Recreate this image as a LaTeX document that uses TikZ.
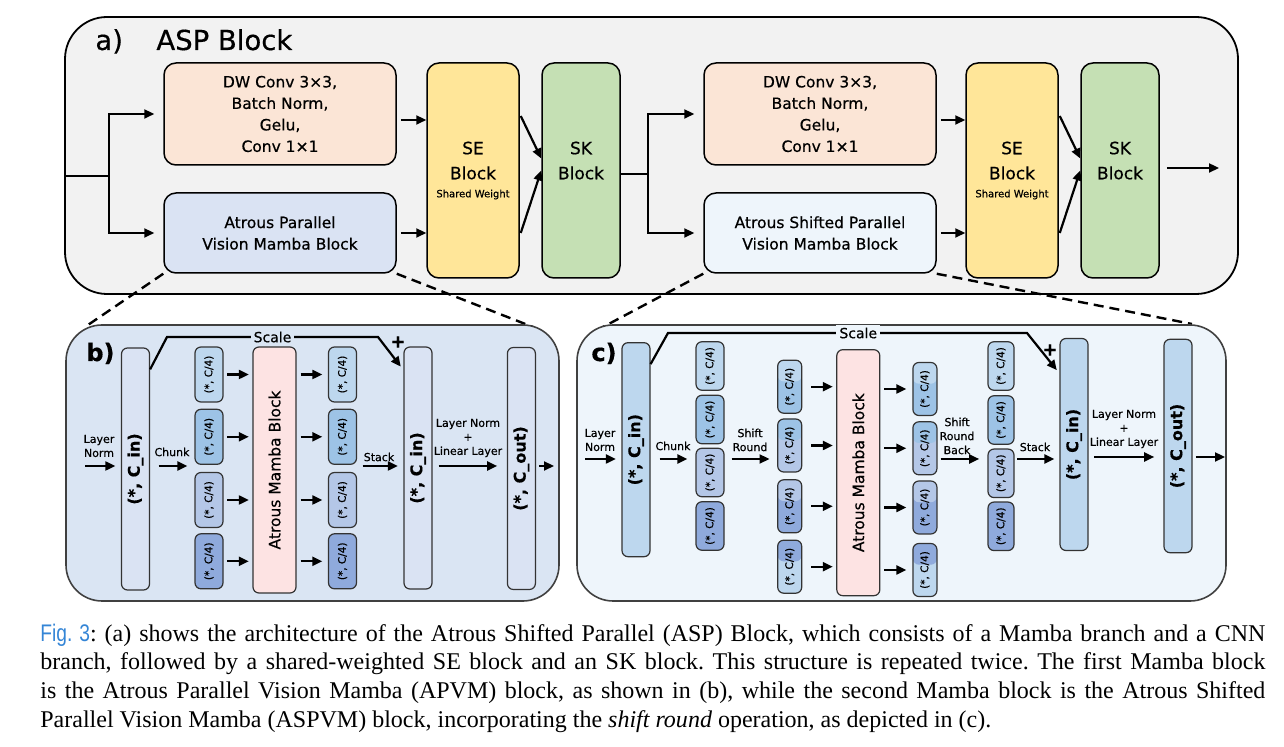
\documentclass[tikz,border=0pt]{standalone}
\usepackage{fontspec}
\usepackage{graphicx}
\setmainfont[FakeBold=0.5]{DejaVu Sans}
\newfontfamily\capserif{Liberation Serif}
\newfontfamily\capsans[FakeStretch=0.8]{Liberation Sans}
\usetikzlibrary{arrows.meta,calc}
\definecolor{panelA}{HTML}{F2F2F2}
\definecolor{panelB}{HTML}{DAE5F3}
\definecolor{panelC}{HTML}{EEF5FB}
\definecolor{peach}{HTML}{FBE5D6}
\definecolor{lav}{HTML}{DAE3F3}
\definecolor{seyel}{HTML}{FFE699}
\definecolor{skgrn}{HTML}{C5E0B4}
\definecolor{pinkb}{HTML}{FDE3E3}
\definecolor{qa}{HTML}{BDD7EE}
\definecolor{qb}{HTML}{9DC3E6}
\definecolor{qc}{HTML}{B4C7E7}
\definecolor{qd}{HTML}{8FAADC}
\definecolor{figblue}{HTML}{3485D6}
\newcommand{\fsz}[2]{\fontsize{#1}{#2}\selectfont}
\newcommand{\vtext}[1]{\rotatebox{90}{#1}}
\frenchspacing

\begin{document}
\begin{tikzpicture}[x=0.5pt,y=-0.5pt,
  box/.style={draw=black,line width=0.75pt,rounded corners=6pt,inner sep=0pt,align=center},
  bar/.style={draw=black!80,line width=0.6pt,rounded corners=3pt,inner sep=0pt},
  quart/.style={bar,fill=#1,minimum width=14pt,minimum height=27.5pt,font=\fsz{5.25}{6}},
  twotone/.style 2 args={bar,fill=#2,minimum width=12pt,minimum height=26.5pt,font=\fsz{5.25}{6},
    path picture={\fill[#1] (path picture bounding box.north west) rectangle ($(path picture bounding box.north east)!0.4!(path picture bounding box.south east)$);}},
  tall/.style={bar,fill=#1,minimum width=14pt,font=\bfseries\fsz{8}{9}},
  mamba/.style={bar,fill=pinkb,minimum width=21.5pt,minimum height=123pt,font=\fsz{7.75}{9}},
  lbl/.style={font=\fsz{5.5}{7},align=center,inner sep=0pt},
  arr/.style={-{Triangle[length=5pt,width=4.5pt]},line width=1.1pt},
  zoomline/.style={line width=1.2pt,dash pattern=on 5pt off 3pt},
]
\useasboundingbox (0,0) rectangle (1284,747);

% a) ASP block
\draw[line width=0.9pt,fill=panelA,rounded corners=21pt] (65,17) rectangle (1238,294);
\node[anchor=base west,inner sep=0pt,font=\fsz{13.75}{16}] (tagA) at (95,50) {a)};
\node[anchor=base west,inner sep=0pt,font=\fsz{13.75}{16}] (ttlA) at (156,50) {ASP Block};

\node[box,fill=peach,minimum width=116pt,minimum height=51pt,font=\fsz{7.75}{10.75}] (cnnA) at (280,114) {DW Conv 3×3,\\Batch Norm,\\Gelu,\\Conv 1×1};
\node[box,fill=lav,minimum width=116pt,minimum height=40pt,font=\fsz{7.75}{10.75}] (mbA) at (280,233) {Atrous Parallel\\Vision Mamba Block};
\node[box,fill=seyel,minimum width=46pt,minimum height=107.5pt,font=\fsz{8.5}{12.5}] (seA) at (473,170.5) {SE\\Block\\[-3.5pt]{\fsz{5}{6}Shared Weight}};
\node[box,fill=skgrn,minimum width=39pt,minimum height=107.5pt,font=\fsz{8.5}{12.5}] (skA) at (581,170.5) {SK\\Block\\[-3.5pt]{\fsz{5}{6}\vphantom{Shared Weight}}};

\node[box,fill=peach,minimum width=116pt,minimum height=51pt,font=\fsz{7.75}{10.75}] (cnnB) at (820,114) {DW Conv 3×3,\\Batch Norm,\\Gelu,\\Conv 1×1};
\node[box,fill=panelC,minimum width=116pt,minimum height=40pt,font=\fsz{7.75}{10.75}] (mbB) at (820,233) {Atrous Shifted Parallel\\Vision Mamba Block};
\node[box,fill=seyel,minimum width=46pt,minimum height=107.5pt,font=\fsz{8.5}{12.5}] (seB) at (1012,170.5) {SE\\Block\\[-3.5pt]{\fsz{5}{6}Shared Weight}};
\node[box,fill=skgrn,minimum width=39pt,minimum height=107.5pt,font=\fsz{8.5}{12.5}] (skB) at (1120,170.5) {SK\\Block\\[-3.5pt]{\fsz{5}{6}\vphantom{Shared Weight}}};

\coordinate (inA) at (65,176);
\coordinate (splitA) at (109,176);
\coordinate (splitB) at (648,174);
\coordinate (outA) at (1219,168);
\draw[line width=1.1pt] (inA) -- (splitA);
\draw[arr,shorten >=4.5pt] (splitA) |- (cnnA.west);
\draw[arr,shorten >=4.5pt] (splitA) |- (mbA.west);
\draw[arr,shorten <=2pt] ($(cnnA.east)+(0,-3pt)$) -- ($(cnnA.east -| seA.west)+(0,-3pt)$);
\draw[arr,shorten <=2pt] (mbA.east) -- (mbA.east -| seA.west);
\draw[arr] ($(seA.east |- cnnA.east)+(0.5pt,-1pt)$) -- ($(skA.west)+(0,6pt)$);
\draw[arr] ($(seA.east |- mbA.east)+(0.5pt,0)$) -- (skA.west);
\draw[line width=1.1pt] (skA.east |- splitB) -- (splitB);
\draw[arr,shorten >=4.5pt] (splitB) |- (cnnB.west);
\draw[arr,shorten >=4.5pt] (splitB) |- (mbB.west);
\draw[arr,shorten <=2pt] ($(cnnB.east)+(0,-3pt)$) -- ($(cnnB.east -| seB.west)+(0,-3pt)$);
\draw[arr,shorten <=2pt] (mbB.east) -- (mbB.east -| seB.west);
\draw[arr] ($(seB.east |- cnnB.east)+(0.5pt,-1pt)$) -- ($(skB.west)+(0,6pt)$);
\draw[arr] ($(seB.east |- mbB.east)+(0.5pt,0)$) -- (skB.west);
\draw[arr,shorten <=3.5pt] (skB.east |- outA) -- (outA);

% zoom lines
\coordinate (bNW) at (85,327);
\coordinate (bNE) at (533,327);
\coordinate (cNW) at (603,327);
\coordinate (cNE) at (1192,324);
\draw[zoomline] (mbA.south west) -- (bNW);
\draw[zoomline] (mbA.south east) -- (bNE);
\draw[zoomline] (mbB.south west) -- (cNW);
\draw[zoomline] (mbB.south east) -- (cNE);

% b) APVM
\draw[line width=0.8pt,draw=black!75,fill=panelB,rounded corners=18pt] (66,325) rectangle (559,601);
\node[anchor=base west,inner sep=0pt,font=\bfseries\fsz{12}{14}] (tagB) at (86,361) {b)};
\node[tall=lav,minimum height=121pt] (cinB) at (135.5,469) {\vtext{(*, C\_in)}};
\node[mamba] (ambB) at (274.5,470) {\vtext{Atrous Mamba Block}};
\node[tall=lav,minimum height=121pt] (cin2B) at (418,468) {\vtext{(*, C\_in)}};
\node[tall=lav,minimum height=121pt] (coutB) at (521.4,468.5) {\vtext{(*, C\_out)}};
\foreach \i/\yy/\col in {1/374.5/qa,2/436.8/qb,3/500/qc,4/561.3/qd}{
  \node[quart=\col] (ckB\i) at (209,\yy) {\vtext{(*, C/4)}};
  \node[quart=\col] (moB\i) at (342.5,\yy) {\vtext{(*, C/4)}};
  \draw[arr,shorten <=1.8pt,shorten >=1.8pt] (ckB\i.east) -- (ckB\i.east -| ambB.west);
  \draw[arr,shorten <=2pt,shorten >=2.8pt] (ambB.east |- moB\i.west) -- (moB\i.west);
}
\coordinate (inB) at (85,466);
\coordinate (outB) at (554,466);
\draw[arr,shorten >=2.8pt] (inB) -- (inB -| cinB.west);
\draw[arr,shorten <=4.3pt,shorten >=3.5pt] (cinB.east |- inB) -- (ckB3.west |- inB);
\draw[arr,shorten <=2.8pt,shorten >=2.8pt] (moB3.east |- inB) -- (cin2B.west |- inB);
\draw[arr,shorten <=3pt,shorten >=4.8pt] (cin2B.east |- inB) -- (coutB.west |- inB);
\draw[arr,shorten <=1.5pt] (coutB.east |- outB) -- (outB);
\node[lbl] (lnB) at (99,446) {Layer\\Norm};
\node[lbl] (chB) at (172,452) {Chunk};
\node[lbl] (stB) at (379,457) {Stack};
\node[lbl] (llB) at (468,438) {Layer Norm\\+\\Linear Layer};
\coordinate (scB1) at (167,337);
\coordinate (scB2) at (378,337);
\draw[arr,shorten >=0.5pt] ($(cinB.north east)+(0,-11pt)$) -- (scB1) -- node[fill=panelB,inner sep=1.5pt,font=\fsz{7}{8}] (scaleB) {Scale} (scB2) -- ($(cin2B.north west)+(-1pt,-10.5pt)$);
\node[font=\bfseries\fsz{9}{10}] (plusB) at (398,342) {+};

% c) ASPVM
\draw[line width=0.8pt,draw=black!75,fill=panelC,rounded corners=18pt] (577,325) rectangle (1226,601);
\node[anchor=base west,inner sep=0pt,font=\bfseries\fsz{12}{14}] (tagC) at (591,361) {c)};
\node[tall=qa,minimum height=107pt] (cinC) at (636,449.7) {\vtext{(*, C\_in)}};
\node[mamba] (ambC) at (858.3,472.7) {\vtext{Atrous Mamba Block}};
\node[tall=qa,minimum height=106pt] (cin2C) at (1074,444.5) {\vtext{(*, C\_in)}};
\node[tall=qa,minimum height=106.7pt] (coutC) at (1178,446) {\vtext{(*, C\_out)}};
\foreach \i/\yy/\col in {1/366/qa,2/419.5/qb,3/472.5/qc,4/526/qd}{
  \node[quart=\col,minimum height=24.25pt] (ckC\i) at (710,\yy) {\vtext{(*, C/4)}};
}
\foreach \i/\yy/\col in {1/366/qa,2/420/qb,3/473.3/qc,4/526.3/qd}{
  \node[quart=\col,minimum width=13pt,minimum height=24.25pt] (stC\i) at (1001,\yy) {\vtext{(*, C/4)}};
}
\foreach \i/\ya/\yb/\ct/\cb in {1/386.7/389/qa/qb,2/445.5/448.3/qb/qc,3/506.3/507.5/qc/qd,4/566.7/570/qd/qa}{
  \node[twotone={\ct}{\cb}] (shC\i) at (789.7,\ya) {\vtext{(*, C/4)}};
  \node[twotone={\ct}{\cb}] (boC\i) at (924.9,\yb) {\vtext{(*, C/4)}};
  \draw[arr,shorten <=4.5pt,shorten >=1.7pt] (shC\i.east) -- (shC\i.east -| ambC.west);
  \draw[arr,shorten <=2pt,shorten >=3pt] (ambC.east |- boC\i.west) -- (boC\i.west);
}
\coordinate (inC) at (585,459);
\coordinate (outC) at (1225,457);
\draw[arr,shorten >=2.8pt] (inC) -- (inC -| cinC.west);
\draw[arr,shorten <=4.5pt,shorten >=4pt] (cinC.east |- inC) -- (ckC3.west |- inC);
\draw[arr,shorten <=3.5pt,shorten >=3.8pt] (ckC3.east |- inC) -- (shC3.west |- inC);
\draw[arr,shorten <=1.5pt,shorten >=4.1pt] (boC3.east |- inC) -- (stC3.west |- inC);
\draw[arr,shorten <=1.4pt,shorten >=2.5pt] (stC3.east |- inC) -- (cin2C.west |- inC);
\draw[arr,shorten <=2.8pt,shorten >=4.6pt] (cin2C.east |- outC) -- (coutC.west |- outC);
\draw[arr,shorten <=1.6pt] (coutC.east |- outC) -- (outC);
\node[lbl] (lnC) at (600,440) {Layer\\Norm};
\node[lbl] (chC) at (673,446) {Chunk};
\node[lbl] (srC) at (750,440) {Shift\\Round};
\node[lbl] (sbC) at (957,436) {Shift\\Round\\Back};
\node[lbl] (stkC) at (1035,447) {Stack};
\node[lbl] (llC) at (1124,429) {Layer Norm\\+\\Linear Layer};
\coordinate (scC1) at (668,333);
\coordinate (scC2) at (1027,333);
\draw[arr,shorten >=0.5pt] ($(cinC.north east)+(0,-11pt)$) -- (scC1) -- node[pos=0.53,fill=panelC,inner sep=1.5pt,font=\fsz{7}{8}] (scaleC) {Scale} (scC2) -- ($(cin2C.north west)+(-1pt,-16.5pt)$);
\node[font=\bfseries\fsz{9}{10}] (plusC) at (1050,350) {+};

% caption
\node[anchor=base west,inner sep=0pt,font=\capserif\fsz{12}{14.5}] (cap1) at (40,641) {\makebox[612.5pt][s]{{\capsans\color{figblue}Fig. 3}: (a) shows the architecture of the Atrous Shifted Parallel (ASP) Block, which consists of a Mamba branch and a CNN}};
\node[anchor=base west,inner sep=0pt,font=\capserif\fsz{12}{14.5}] (cap2) at (40,669.7) {\makebox[612.5pt][s]{branch, followed by a shared-weighted SE block and an SK block. This structure is repeated twice. The first Mamba block}};
\node[anchor=base west,inner sep=0pt,font=\capserif\fsz{12}{14.5}] (cap3) at (40,698.4) {\makebox[612.5pt][s]{is the Atrous Parallel Vision Mamba (APVM) block, as shown in (b), while the second Mamba block is the Atrous Shifted}};
\node[anchor=base west,inner sep=0pt,font=\capserif\fsz{12}{14.5}] (cap4) at (40,727) {Parallel Vision Mamba (ASPVM) block, incorporating the \textit{shift round} operation, as depicted in (c).};
\end{tikzpicture}
\end{document}
